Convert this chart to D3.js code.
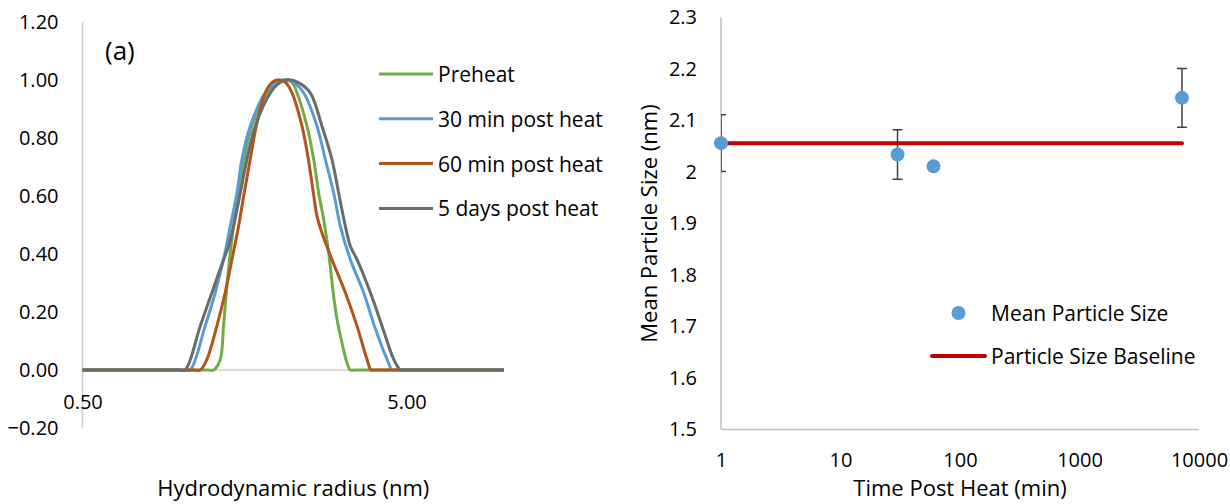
<!DOCTYPE html>
<html>
<head>
<meta charset="utf-8">
<script src="https://cdn.jsdelivr.net/npm/d3@7"></script>
<style>
  body { margin: 0; background: #fff; }
  text { font-family: "Open Sans", sans-serif; fill: #000; }
</style>
</head>
<body>
<svg id="chart" width="1230" height="504"></svg>
<script>
// ---- panel (a): size distributions, [radius nm, normalised intensity]
const preheat = [[0.5, 0], [1.22, 0], [1.27, 0], [1.331, 0.036], [1.362, 0.151], [1.389, 0.266], [1.422, 0.38],
  [1.463, 0.495], [1.516, 0.61], [1.578, 0.725], [1.667, 0.84], [1.855, 0.955], [1.99, 0.99], [2.113, 1.0],
  [2.22, 0.99], [2.296, 0.955], [2.465, 0.84], [2.586, 0.725], [2.679, 0.61], [2.776, 0.518], [2.877, 0.403],
  [2.98, 0.254], [3.053, 0.174], [3.163, 0.093], [3.278, 0.024], [3.357, 0], [3.45, 0], [10, 0]];
const min30 = [[0.5, 0], [1.03, 0], [1.075, 0], [1.195, 0.151], [1.284, 0.266], [1.362, 0.38], [1.429, 0.495],
  [1.499, 0.61], [1.552, 0.725], [1.647, 0.84], [1.833, 0.955], [1.99, 0.99], [2.113, 1.0], [2.25, 0.99],
  [2.408, 0.955], [2.647, 0.84], [2.809, 0.725], [2.98, 0.61], [3.126, 0.495], [3.357, 0.38], [3.69, 0.266],
  [3.983, 0.151], [4.357, 0.036], [4.515, 0], [4.62, 0], [10, 0]];
const min60 = [[0.5, 0], [1.1, 0], [1.154, 0], [1.21, 0.036], [1.299, 0.151], [1.378, 0.266], [1.446, 0.38],
  [1.516, 0.495], [1.578, 0.61], [1.647, 0.725], [1.719, 0.84], [1.833, 0.955], [1.92, 0.99], [2.016, 1.0],
  [2.12, 0.99], [2.216, 0.955], [2.38, 0.84], [2.49, 0.725], [2.58, 0.61], [2.647, 0.53], [2.743, 0.472],
  [2.945, 0.38], [3.239, 0.266], [3.52, 0.151], [3.778, 0.036], [3.889, 0], [3.98, 0], [10, 0]];
const days5 = [[0.5, 0], [0.99, 0], [1.037, 0], [1.154, 0.151], [1.254, 0.266], [1.362, 0.38], [1.412, 0.426],
  [1.463, 0.495], [1.535, 0.61], [1.609, 0.725], [1.707, 0.84], [1.9, 0.955], [2.03, 0.99], [2.164, 1.0],
  [2.32, 0.99], [2.524, 0.955], [2.743, 0.84], [2.945, 0.725], [3.088, 0.61], [3.239, 0.495], [3.357, 0.426],
  [3.52, 0.38], [3.87, 0.266], [4.205, 0.151], [4.569, 0.036], [4.791, 0], [4.9, 0], [10, 0]];

const seriesNames = ["Preheat", "30 min post heat", "60 min post heat", "5 days post heat"];
const seriesColors = ["#70AD47", "#5B9BD5", "#B3541B", "#6B6B6B"];
const leftYTicks = [-0.2, 0, 0.2, 0.4, 0.6, 0.8, 1.0, 1.2];
const leftXTicks = [0.5, 5];

// ---- panel (b): mean size vs time
const times = [1, 30, 60, 7200];
const meanSize = [2.056, 2.034, 2.011, 2.144];
const sizeErr = [0.055, 0.048, 0, 0.057];
const baselineTimes = [1, 7200];
const baselineSize = [2.056, 2.056];
const rightYTicks = [1.5, 1.6, 1.7, 1.8, 1.9, 2.0, 2.1, 2.2, 2.3];
const rightXTicks = [1, 10, 100, 1000, 10000];

const svg = d3.select("#chart");
const axisGray = "#BFBFBF";

// ================= left chart =================
const xL = d3.scaleLog().domain([0.5, 10]).range([82.5, 504]);
const yL = d3.scaleLinear().domain([-0.2, 1.2]).range([428, 21.7]);

const left = svg.append("g");

left.append("line")
  .attr("x1", xL(0.5)).attr("x2", xL(0.5))
  .attr("y1", yL(1.2)).attr("y2", yL(-0.2))
  .attr("stroke", "#D0D0D0").attr("stroke-width", 1.5);
left.append("line")
  .attr("x1", xL(0.5)).attr("x2", xL(10))
  .attr("y1", yL(0)).attr("y2", yL(0))
  .attr("stroke", "#D0D0D0").attr("stroke-width", 1.5);

left.append("g")
  .attr("transform", `translate(${xL(0.5)},0)`)
  .call(d3.axisLeft(yL).tickValues(leftYTicks).tickSize(0).tickPadding(24)
    .tickFormat(d3.format(".2f")))
  .call(g => g.select(".domain").remove())
  .selectAll("text").style("font-size", "20px").style("font-family", "Open Sans");

// x tick labels sit below the zero line
left.append("g")
  .attr("transform", "translate(0,402)")
  .call(d3.axisBottom(xL).tickValues(leftXTicks).tickSize(0).tickPadding(0)
    .tickFormat(d3.format(".2f")))
  .call(g => g.select(".domain").remove())
  .selectAll("text").attr("dy", "0.35em").attr("y", 0)
  .style("font-size", "20px").style("font-family", "Open Sans");

const lineL = d3.line()
  .x(d => xL(d[0]))
  .y(d => yL(d[1]))
  .curve(d3.curveCatmullRom.alpha(0.5));

[preheat, min30, min60, days5].forEach((s, i) => {
  left.append("path")
    .attr("d", lineL(s))
    .attr("fill", "none")
    .attr("stroke", seriesColors[i])
    .attr("stroke-width", 3)
    .attr("stroke-linejoin", "round");
});

left.append("text")
  .attr("x", 105).attr("y", 50)
  .attr("dominant-baseline", "central")
  .style("font-size", "26px")
  .text("(a)");

// legend
const legL = left.selectAll(".legL")
  .data(seriesNames)
  .join("g")
    .attr("transform", (d, i) => `translate(379,${74 + i * 44.8})`);
legL.append("line")
  .attr("x1", 0).attr("x2", 54)
  .attr("stroke", (d, i) => seriesColors[i])
  .attr("stroke-width", 3);
legL.append("text")
  .attr("x", 59)
  .attr("dominant-baseline", "central")
  .style("font-size", "21px")
  .text(d => d);

left.append("text")
  .attr("x", (xL(0.5) + xL(10)) / 2).attr("y", 487)
  .attr("text-anchor", "middle")
  .attr("dominant-baseline", "central")
  .style("font-size", "22px")
  .text("Hydrodynamic radius (nm)");

// ================= right chart =================
const xR = d3.scaleLog().domain([1, 10000]).range([721, 1199]);
const yR = d3.scaleLinear().domain([1.5, 2.3]).range([429.5, 17.5]);

const right = svg.append("g");

right.append("defs").append("clipPath").attr("id", "plotR")
  .append("rect")
    .attr("x", xR(1)).attr("y", yR(2.3))
    .attr("width", xR(10000) - xR(1)).attr("height", yR(1.5) - yR(2.3));

right.append("line")
  .attr("x1", xR(1)).attr("x2", xR(1))
  .attr("y1", yR(2.3)).attr("y2", yR(1.5))
  .attr("stroke", axisGray).attr("stroke-width", 1.5);
right.append("line")
  .attr("x1", xR(1)).attr("x2", xR(10000))
  .attr("y1", yR(1.5)).attr("y2", yR(1.5))
  .attr("stroke", axisGray).attr("stroke-width", 1.5);

right.append("g")
  .attr("transform", `translate(${xR(1)},0)`)
  .call(d3.axisLeft(yR).tickValues(rightYTicks).tickSize(0).tickPadding(24)
    .tickFormat(d => String(+d.toFixed(1))))
  .call(g => g.select(".domain").remove())
  .selectAll("text").style("font-size", "20px").style("font-family", "Open Sans");

right.append("g")
  .attr("transform", "translate(0,460)")
  .call(d3.axisBottom(xR).tickValues(rightXTicks).tickSize(0).tickPadding(0)
    .tickFormat(d3.format("d")))
  .call(g => g.select(".domain").remove())
  .selectAll("text").attr("dy", "0.35em").attr("y", 0)
  .style("font-size", "20px").style("font-family", "Open Sans");

// baseline
right.append("path")
  .attr("d", d3.line().x(d => xR(d[0])).y(d => yR(d[1]))(baselineTimes.map((t, i) => [t, baselineSize[i]])))
  .attr("stroke", "#C00000")
  .attr("stroke-width", 4)
  .attr("stroke-linecap", "round")
  .attr("fill", "none");

// error bars, clipped to plot area like the original
const pts = times.map((t, i) => ({ t, v: meanSize[i], e: sizeErr[i] }));
const errG = right.append("g").attr("clip-path", "url(#plotR)");
pts.filter(d => d.e > 0).forEach(d => {
  const cx = xR(d.t), top = yR(d.v + d.e), bot = yR(d.v - d.e);
  errG.append("line").attr("x1", cx).attr("x2", cx).attr("y1", top).attr("y2", bot);
  errG.append("line").attr("x1", cx - 5).attr("x2", cx + 5).attr("y1", top).attr("y2", top);
  errG.append("line").attr("x1", cx - 5).attr("x2", cx + 5).attr("y1", bot).attr("y2", bot);
});
errG.selectAll("line").attr("stroke", "#404040").attr("stroke-width", 1.5);

right.selectAll(".dot")
  .data(pts)
  .join("circle")
    .attr("class", "dot")
    .attr("cx", d => xR(d.t))
    .attr("cy", d => yR(d.v))
    .attr("r", 7)
    .attr("fill", "#5B9BD5");

// legend
right.append("circle")
  .attr("cx", 958.5).attr("cy", 313).attr("r", 7).attr("fill", "#5B9BD5");
right.append("text")
  .attr("x", 991).attr("y", 313)
  .attr("dominant-baseline", "central")
  .style("font-size", "21px")
  .text("Mean Particle Size");
right.append("line")
  .attr("x1", 932).attr("x2", 985).attr("y1", 356).attr("y2", 356)
  .attr("stroke", "#C00000").attr("stroke-width", 4).attr("stroke-linecap", "round");
right.append("text")
  .attr("x", 991).attr("y", 356)
  .attr("dominant-baseline", "central")
  .style("font-size", "21px")
  .text("Particle Size Baseline");

right.append("text")
  .attr("x", (xR(1) + xR(10000)) / 2).attr("y", 487)
  .attr("text-anchor", "middle")
  .attr("dominant-baseline", "central")
  .style("font-size", "22px")
  .text("Time Post Heat (min)");

right.append("text")
  .attr("transform", `translate(648,${(yR(1.5) + yR(2.3)) / 2}) rotate(-90)`)
  .attr("text-anchor", "middle")
  .attr("dominant-baseline", "central")
  .style("font-size", "22px")
  .text("Mean Particle Size (nm)");
</script>
</body>
</html>
